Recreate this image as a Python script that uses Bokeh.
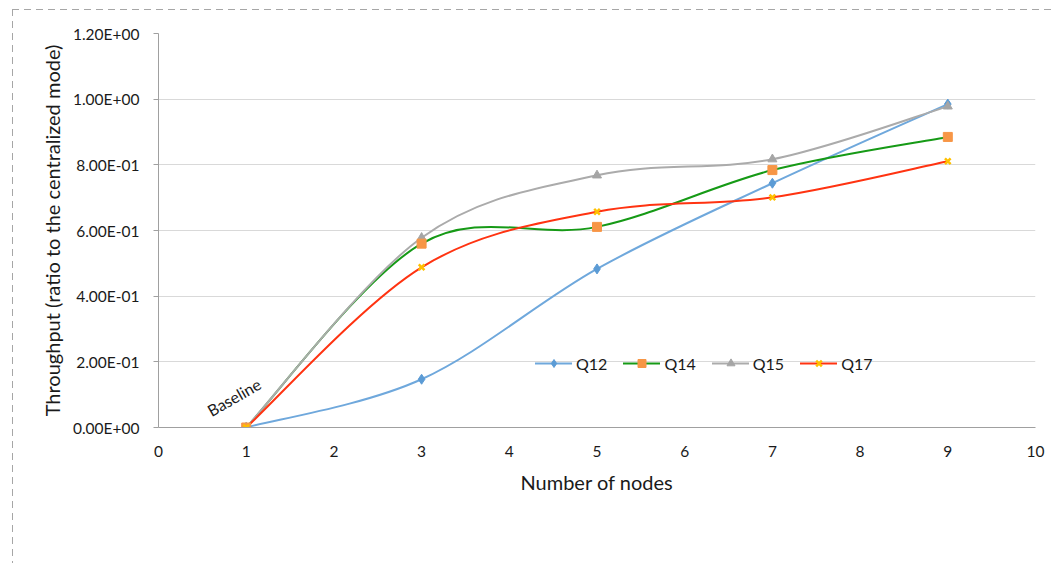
import numpy as np
from bokeh.plotting import figure
from bokeh.models import Range1d, FixedTicker, Legend, LegendItem, Label, ColumnDataSource
from bokeh.embed import file_html
from bokeh.resources import INLINE

# ---- data ----
nodes = [1, 3, 5, 7, 9]
q12 = [0.0, 0.147, 0.483, 0.744, 0.985]
q14 = [0.0, 0.560, 0.611, 0.784, 0.885]
q15 = [0.0, 0.578, 0.768, 0.817, 0.978]
q17 = [0.0, 0.488, 0.657, 0.701, 0.811]
series_names = ["Q12", "Q14", "Q15", "Q17"]
x_ticks = [0, 1, 2, 3, 4, 5, 6, 7, 8, 9, 10]
x_tick_labels = ["0", "1", "2", "3", "4", "5", "6", "7", "8", "9", "10"]
y_ticks = [0.0, 0.2, 0.4, 0.6, 0.8, 1.0, 1.2]
y_tick_labels = ["0.00E+00", "2.00E-01", "4.00E-01", "6.00E-01", "8.00E-01", "1.00E+00", "1.20E+00"]
x_title = "Number of nodes"
y_title = "Throughput (ratio to the centralized mode)"
note_text = "Baseline"
note_x, note_y = 0.86, 0.093

FONT = "Lato"

line_colors = ["#6FA8DC", "#169A16", "#ABABAB", "#FF3311"]
marker_colors = ["#5B9BD5", "#F79646", "#A5A5A5", "#FFC000"]
markers = ["diamond", "square", "triangle", "x"]
marker_sizes = [10, 9, 9, 8]


def smooth_segments(xs, ys):
    """Cubic Bezier control points (Catmull-Rom style, like spreadsheet smoothing)."""
    xs = np.asarray(xs, float)
    ys = np.asarray(ys, float)
    n = len(xs)
    px = np.concatenate([[xs[0]], xs, [xs[-1]]])
    py = np.concatenate([[ys[0]], ys, [ys[-1]]])
    P0x, P1x, P2x, P3x = px[0:n - 1], px[1:n], px[2:n + 1], px[3:n + 2]
    P0y, P1y, P2y, P3y = py[0:n - 1], py[1:n], py[2:n + 1], py[3:n + 2]
    return dict(
        x0=P1x, y0=P1y, x1=P2x, y1=P2y,
        cx0=P1x + (P2x - P0x) / 6.0, cy0=P1y + (P2y - P0y) / 6.0,
        cx1=P2x - (P3x - P1x) / 6.0, cy1=P2y - (P3y - P1y) / 6.0,
    )


p = figure(
    output_backend="svg", toolbar_location=None,
    frame_width=877, frame_height=394,
    min_border_left=145, min_border_right=18, min_border_top=23, min_border_bottom=136,
    x_range=Range1d(0, 10), y_range=Range1d(0, 1.2),
)
p.margin = (9, 0, 0, 12)
dash_col = "#A6A6A6"
p.styles = {
    "border-top": "1px solid transparent",
    "border-left": "1px solid transparent",
    "background-origin": "border-box",
    "background-clip": "border-box",
    "background-repeat": "no-repeat",
    "background-image": (
        f"repeating-linear-gradient(to right, {dash_col} 0px, {dash_col} 7px, transparent 7px, transparent 12px), "
        f"repeating-linear-gradient(to bottom, {dash_col} 0px, {dash_col} 7px, transparent 7px, transparent 12px)"
    ),
    "background-size": "100% 1px, 1px 100%",
    "background-position": "left top, left top",
}
p.outline_line_color = None
p.background_fill_color = "white"
p.border_fill_color = "white"

# axes
p.xaxis.ticker = FixedTicker(ticks=x_ticks)
p.xaxis.major_label_overrides = {t: l for t, l in zip(x_ticks, x_tick_labels)}
p.yaxis.ticker = FixedTicker(ticks=y_ticks)
p.yaxis.major_label_overrides = {t: l for t, l in zip(y_ticks, y_tick_labels)}
for ax in (p.xaxis, p.yaxis):
    ax.axis_line_color = "#A0A0A0"
    ax.axis_line_width = 1
    ax.major_tick_line_color = "#A0A0A0"
    ax.minor_tick_line_color = None
    ax.major_label_text_font = FONT
    ax.major_label_text_font_size = "15.5px"
    ax.major_label_text_color = "#1A1A1A"
    ax.axis_label_text_font = FONT
    ax.axis_label_text_font_size = "20px"
    ax.axis_label_text_font_style = "normal"
    ax.axis_label_text_color = "#1A1A1A"
p.xaxis.major_tick_out = 0
p.xaxis.major_tick_in = 0
p.xaxis.major_label_standoff = 18
p.xaxis.axis_label = x_title
p.xaxis.axis_label_standoff = 10
p.yaxis.major_tick_out = 5
p.yaxis.major_tick_in = 0
p.yaxis.major_label_standoff = 14
p.yaxis.axis_label = y_title
p.yaxis.axis_label_standoff = 6

p.xgrid.grid_line_color = None
p.ygrid.grid_line_color = "#D9D9D9"
p.ygrid.grid_line_width = 1

all_series = [q12, q14, q15, q17]
line_renderers = []
for vals, lc in zip(all_series, line_colors):
    src = ColumnDataSource(smooth_segments(nodes, vals))
    r = p.bezier(x0="x0", y0="y0", x1="x1", y1="y1", cx0="cx0", cy0="cy0",
                 cx1="cx1", cy1="cy1", source=src, line_color=lc, line_width=2,
                 line_cap="round")
    line_renderers.append(r)

marker_renderers = [None] * 4
for i in [0, 2, 1, 3]:
    mc = marker_colors[i]
    if markers[i] == "x":
        r = p.scatter(nodes, all_series[i], marker="x", size=marker_sizes[i],
                      line_color=mc, line_width=2.5)
    else:
        r = p.scatter(nodes, all_series[i], marker=markers[i], size=marker_sizes[i],
                      fill_color=mc, line_color=mc)
    marker_renderers[i] = r

items = [LegendItem(label=name, renderers=[line_renderers[i], marker_renderers[i]])
         for i, name in enumerate(series_names)]
legend = Legend(items=items, orientation="horizontal", location=(377, 54),
                padding=0, margin=0, spacing=16, glyph_width=37, glyph_height=20,
                label_standoff=4, label_width=30, label_height=20,
                label_text_font=FONT, label_text_font_size="16px",
                label_text_color="#1A1A1A",
                background_fill_alpha=0, border_line_color=None)
p.add_layout(legend, "center")

p.add_layout(Label(x=note_x, y=note_y, text=note_text, angle=30, angle_units="deg",
                   text_align="center", text_baseline="middle", text_font=FONT,
                   text_font_size="16px", text_color="#1A1A1A"))

open("out.html", "w").write(file_html(p, INLINE))
